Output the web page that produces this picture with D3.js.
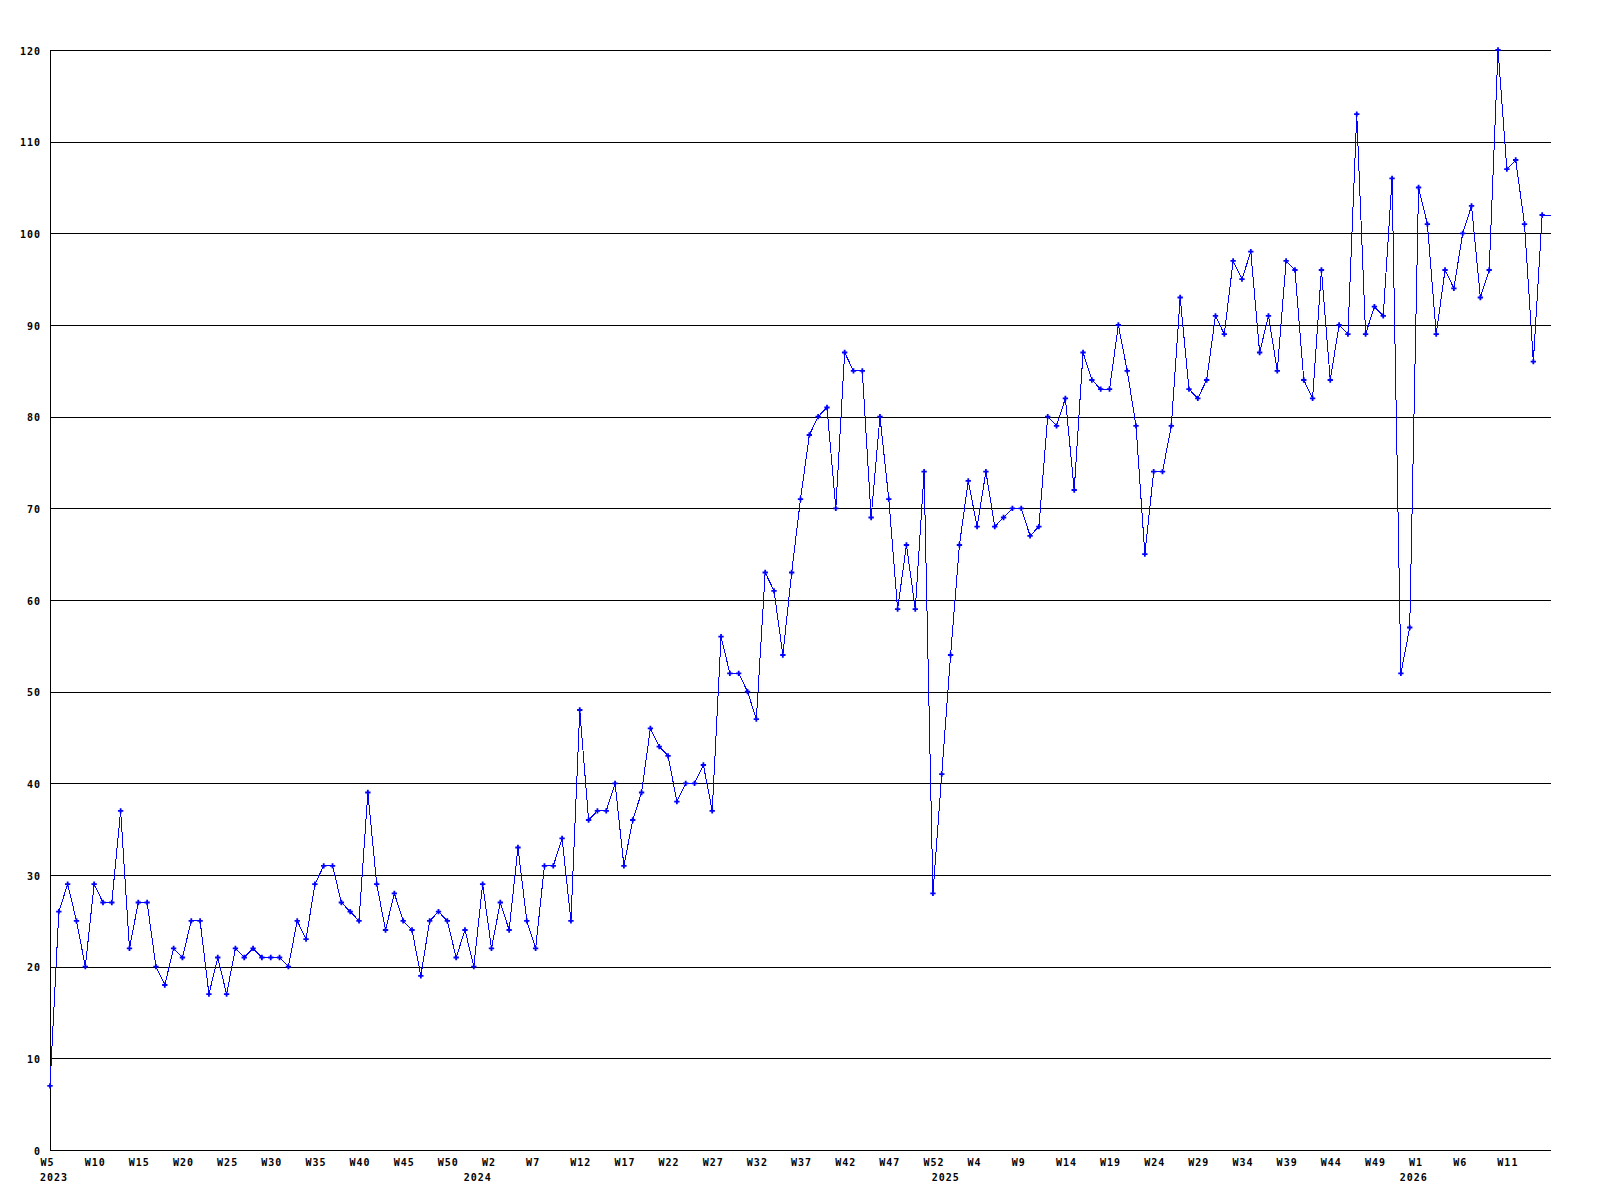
<!DOCTYPE html>
<html>
<head>
<meta charset="utf-8">
<script src="https://cdn.jsdelivr.net/npm/d3@7"></script>
<style>
  html, body { margin: 0; padding: 0; background: #fff; }
  svg { display: block; }
  text { font-family: "DejaVu Sans Mono", monospace; font-weight: bold; font-size: 10px; letter-spacing: 1px; fill: #000; }
</style>
</head>
<body>
<svg id="chart"></svg>
<script>
// weekly values, first point is W5 2023
const counts = [
    7, 26, 29, 25, 20, 29, 27, 27, 37, 22,
    27, 27, 20, 18, 22, 21, 25, 25, 17, 21,
    17, 22, 21, 22, 21, 21, 21, 20, 25, 23,
    29, 31, 31, 27, 26, 25, 39, 29, 24, 28,
    25, 24, 19, 25, 26, 25, 21, 24, 20, 29,
    22, 27, 24, 33, 25, 22, 31, 31, 34, 25,
    48, 36, 37, 37, 40, 31, 36, 39, 46, 44,
    43, 38, 40, 40, 42, 37, 56, 52, 52, 50,
    47, 63, 61, 54, 63, 71, 78, 80, 81, 70,
    87, 85, 85, 69, 80, 71, 59, 66, 59, 74,
    28, 41, 54, 66, 73, 68, 74, 68, 69, 70,
    70, 67, 68, 80, 79, 82, 72, 87, 84, 83,
    83, 90, 85, 79, 65, 74, 74, 79, 93, 83,
    82, 84, 91, 89, 97, 95, 98, 87, 91, 85,
    97, 96, 84, 82, 96, 84, 90, 89, 113, 89,
    92, 91, 106, 52, 57, 105, 101, 89, 96, 94,
    100, 103, 93, 96, 120, 107, 108, 101, 86, 102
];

// one label every 5 weeks
const weekLabels = [
    "W5", "W10", "W15", "W20", "W25", "W30", "W35", "W40", "W45", "W50",
    "W2", "W7", "W12", "W17", "W22", "W27", "W32", "W37", "W42", "W47", "W52",
    "W4", "W9", "W14", "W19", "W24", "W29", "W34", "W39", "W44", "W49",
    "W1", "W6", "W11"
];
const weekStep = 5;

const years = ["2023", "2024", "2025", "2026"];
const yearStart = [0, 48, 101, 154];   // index of first week shown for each year

const yTicks = [0, 10, 20, 30, 40, 50, 60, 70, 80, 90, 100, 110, 120];

const width = 1600, height = 1200;
const plot = { left: 50, right: 1551, top: 50, bottom: 1150 };

const svg = d3.select("#chart")
    .attr("width", width)
    .attr("height", height);

const x = d3.scaleLinear()
    .domain([0, counts.length])
    .range([plot.left, plot.right]);

const y = d3.scaleLinear()
    .domain([0, 120])
    .range([plot.bottom, plot.top]);

// horizontal grid lines
svg.append("g")
    .attr("transform", `translate(${plot.left},0)`)
    .call(d3.axisRight(y).tickValues(yTicks).tickSize(plot.right - plot.left).tickFormat(""))
    .call(g => g.select(".domain").remove())
    .call(g => g.selectAll(".tick line")
        .attr("stroke", "#000")
        .attr("shape-rendering", "crispEdges"));

// Y axis
svg.append("g")
    .attr("transform", `translate(${plot.left},0)`)
    .call(d3.axisLeft(y).tickValues(yTicks).tickSize(0).tickPadding(9))
    .call(g => g.select(".domain")
        .attr("stroke", "#000")
        .attr("shape-rendering", "crispEdges"))
    .call(g => g.selectAll("text")
        .attr("dy", "0.4em")
        .attr("font-family", null)
        .attr("font-size", null));

// X axis, week labels
const xAxis = svg.append("g")
    .attr("transform", `translate(0,${plot.bottom})`)
    .call(d3.axisBottom(x)
        .tickValues(weekLabels.map((d, i) => i * weekStep))
        .tickFormat((d, i) => weekLabels[i])
        .tickSize(0)
        .tickPadding(0));
xAxis.select(".domain").remove();
xAxis.selectAll("text")
    .attr("text-anchor", "start")
    .attr("x", -10)
    .attr("y", 16)
    .attr("dy", null)
    .attr("font-family", null)
    .attr("font-size", null);

// year labels
svg.append("g")
    .selectAll("text")
    .data(years)
    .join("text")
    .attr("x", (d, i) => x(yearStart[i]) - 10)
    .attr("y", plot.bottom + 31)
    .text(d => d);

// line, carried flat to the right edge
const lineData = counts.map((v, i) => ({ i, v }));
lineData.push({ i: counts.length, v: counts[counts.length - 1] });

const line = d3.line()
    .x(d => x(d.i))
    .y(d => y(d.v));

svg.append("path")
    .datum(lineData)
    .attr("fill", "none")
    .attr("stroke", "#0000ff")
    .attr("stroke-width", 1)
    .attr("shape-rendering", "crispEdges")
    .attr("d", line);

// point markers
const marker = d3.symbol().type(d3.symbolCross).size(16);
svg.append("g")
    .selectAll("path")
    .data(counts)
    .join("path")
    .attr("transform", (d, i) => `translate(${x(i)},${y(d)})`)
    .attr("d", marker)
    .attr("fill", "#0000ff");
</script>
</body>
</html>
